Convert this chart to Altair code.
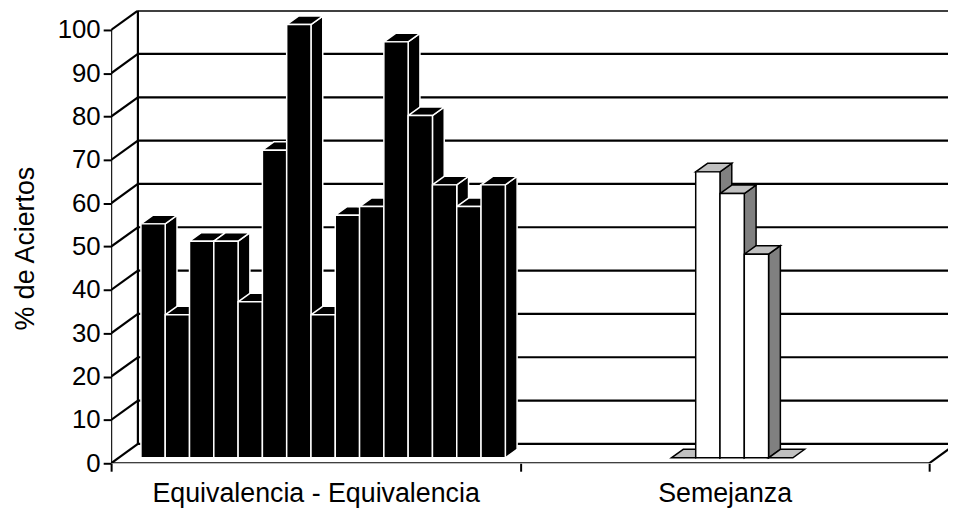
import altair as alt
import pandas as pd

# ---------------- data ----------------
categories = ["Equivalencia - Equivalencia", "Semejanza"]
equiv_values = [54, 33, 50, 50, 36, 71, 100, 33, 56, 58, 96, 79, 63, 58, 63]
sem_values = [0, 66, 61, 47, 0]
y_ticks = [0, 10, 20, 30, 40, 50, 60, 70, 80, 90, 100]
y_title = "% de Aciertos"

# ---------------- layout (3D projection) ----------------
CAT_PX = 412.5          # pixels per category
PX_PER_UNIT = 4.37      # pixels per value unit
PLOT_W = 844
PLOT_H = 457
DX = 27 / CAT_PX        # depth offset in category units
DY = 19.5 / PX_PER_UNIT # depth offset in value units
XMAX = PLOT_W / CAT_PX
YMAX = PLOT_H / PX_PER_UNIT
BAR_W = 24.5 / CAT_PX
Z0, Z1 = 0.28, 0.72
FONT = "Liberation Sans"

groups = [
    (equiv_values, "black", "black", "black", "white"),
    (sem_values, "white", "#c0c0c0", "#808080", "black"),
]

fronts, sides, tops = [], [], []
bid = 0
for g, (vals, fc, tc, sc, st) in enumerate(groups):
    n = len(vals)
    start = g + 0.5 - n / 2 * BAR_W
    for i, v in enumerate(vals):
        u = start + i * BAR_W
        if v > 0:
            fronts.append(dict(id=bid, x=u + Z0 * DX, x2=u + BAR_W + Z0 * DX,
                               y=Z0 * DY, y2=v + Z0 * DY, fill=fc, stroke=st))
            for z in (Z0, Z1):
                sides.append(dict(id=bid, x=u + BAR_W + z * DX, y=v + z * DY,
                                  y2=z * DY, fill=sc, stroke=st))
        for z in (Z0, Z1):
            tops.append(dict(id=bid, y=v + z * DY, x=u + z * DX,
                             x2=u + BAR_W + z * DX, fill=tc, stroke=st))
        bid += 1

lines = []
for t in y_ticks:
    lines.append(dict(x=DX, x2=2 + DX, y=t + DY, y2=t + DY))   # back wall grid
    lines.append(dict(x=0, x2=DX, y=t, y2=t + DY))             # left wall
lines.append(dict(x=DX, x2=DX, y=DY, y2=100 + DY))              # back-left edge
lines.append(dict(x=0, x2=0, y=0, y2=100))                      # front y axis
lines.append(dict(x=0, x2=2, y=0, y2=0))                        # floor front
lines.append(dict(x=2, x2=2 + DX, y=0, y2=DY))                  # floor right

xs = alt.Scale(domain=[0, XMAX], nice=False, zero=False)
ys = alt.Scale(domain=[0, YMAX], nice=False, zero=False)

label_expr = (f"datum.value == 0.5 ? '{categories[0]}' : "
              f"(datum.value == 1.5 ? '{categories[1]}' : '')")

x_axis = alt.Axis(values=[0, 0.5, 1, 1.5, 2], labelExpr=label_expr, title=None,
                  grid=False, domain=False, tickSize=8, tickWidth=2,
                  tickColor="black",
                  tickOpacity={"condition": {"test": "datum.value % 1 != 0", "value": 0}, "value": 1},
                  labelFont=FONT, labelFontSize=27, labelColor="black",
                  labelPadding=10, labelOverlap=False, labelFlush=False,
                  labelLimit=0)
y_axis = alt.Axis(values=y_ticks, title=y_title, grid=False, domain=False,
                  tickSize=8, tickWidth=2, tickColor="black",
                  labelFont=FONT, labelFontSize=26, labelColor="black",
                  labelPadding=3, labelOverlap=False, labelFlush=False,
                  labelLimit=0,
                  titleFont=FONT, titleFontSize=27, titleFontWeight="normal",
                  titleColor="black", titleAngle=270, titleAlign="center",
                  titleBaseline="alphabetic", titleX=-78, titleY=240,
                  titleLimit=0)


def X(f):
    return alt.X(f, scale=xs, axis=x_axis)


def Y(f):
    return alt.Y(f, scale=ys, axis=y_axis)


rules = alt.Chart(pd.DataFrame(lines)).mark_rule(
    color="black", strokeWidth=2.2, clip=True).encode(
    x=X("x:Q"), x2="x2:Q", y=Y("y:Q"), y2="y2:Q",
)

side_layer = alt.Chart(pd.DataFrame(sides)).mark_area(
    orient="vertical", strokeWidth=1.5, opacity=1).encode(
    x=X("x:Q"), y=Y("y:Q"), y2="y2:Q",
    detail="id:N",
    fill=alt.Fill("fill:N", scale=None),
    stroke=alt.Stroke("stroke:N", scale=None),
)

top_layer = alt.Chart(pd.DataFrame(tops)).mark_area(
    orient="horizontal", strokeWidth=1.5, opacity=1).encode(
    y=Y("y:Q"), x=X("x:Q"), x2="x2:Q",
    detail="id:N",
    fill=alt.Fill("fill:N", scale=None),
    stroke=alt.Stroke("stroke:N", scale=None),
)

front_layer = alt.Chart(pd.DataFrame(fronts)).mark_rect(strokeWidth=1.5).encode(
    x=X("x:Q"), x2="x2:Q", y=Y("y:Q"), y2="y2:Q",
    fill=alt.Fill("fill:N", scale=None),
    stroke=alt.Stroke("stroke:N", scale=None),
)

chart = alt.layer(rules, side_layer, top_layer, front_layer).properties(
    width=PLOT_W, height=PLOT_H,
    autosize=alt.AutoSizeParams(type="none"),
    padding={"left": 104, "top": 0, "right": 0, "bottom": 48},
    background="white",
).configure_view(stroke=None)

chart.save("out.html", embed_options={"renderer": "svg", "actions": False})
